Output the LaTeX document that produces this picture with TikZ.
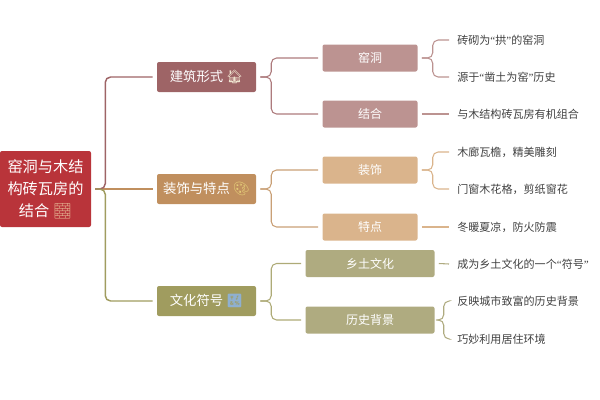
\documentclass[tikz,border=0pt]{standalone}
\usepackage{fontspec}
\setmainfont{Noto Sans CJK SC}
\newfontfamily\emojifont{Noto Emoji}
\newfontfamily\quotefont{Liberation Serif}
\newcommand{\lqm}{{\quotefont “}}
\newcommand{\rqm}{{\quotefont ”}}
\usetikzlibrary{positioning,calc}
\definecolor{rootred}{HTML}{B9343A}
\definecolor{roseA}{HTML}{9E6466}
\definecolor{roseB}{HTML}{BC9391}
\definecolor{tanA}{HTML}{C08F5E}
\definecolor{tanB}{HTML}{DAB48C}
\definecolor{oliveA}{HTML}{A09C5F}
\definecolor{oliveB}{HTML}{AFAB80}
\tikzset{
    rootbox/.style={fill=rootred,rounded corners=1.5pt,text=white,align=center,font=\fontsize{11.4}{16.5}\selectfont,minimum width=68.25pt,minimum height=57pt,inner sep=0pt},
    mainbox/.style={rounded corners=1.5pt,text=white,font=\fontsize{10}{12}\selectfont,minimum width=74.25pt,minimum height=22.5pt,inner sep=0pt},
    subbox/.style={rounded corners=1.5pt,text=white,font=\fontsize{9}{11}\selectfont,minimum height=20.25pt,inner sep=0pt},
    leaf/.style={anchor=west,text=black!75,font=\fontsize{8.3}{10}\selectfont,inner sep=0pt},
    link/.style={line width=1.1pt,rounded corners=4pt},
    thinlink/.style={line width=0.8pt,rounded corners=4pt},
}
\begin{document}
\begin{tikzpicture}[x=0.75pt,y=-0.75pt]
\useasboundingbox (0,0) rectangle (600,400);
% root and main branches
\node[rootbox] (root) at (45.5,189) {窑洞与木结\\构砖瓦房的\\结合 {\emojifont\textcolor[HTML]{E2AE8E}{🧱}}};
\node[mainbox,fill=roseA] (form) at (206.5,77) {建筑形式 {\emojifont\textcolor[HTML]{EFE3CF}{🏠}}};
\node[mainbox,fill=tanA] (deco) at (206.5,189) {装饰与特点 {\emojifont\textcolor[HTML]{E8D27A}{🎨}}};
\node[mainbox,fill=oliveA] (sign) at (206.5,301) {文化符号 {\emojifont\textcolor[HTML]{8FB0D0}{🔣}}};
% second level
\node[subbox,fill=roseB,minimum width=71.25pt] (cave) at (370,58) {窑洞};
\node[subbox,fill=roseB,minimum width=71.25pt] (mix) at (370,114) {结合};
\node[subbox,fill=tanB,minimum width=71.25pt] (orn) at (370,170) {装饰};
\node[subbox,fill=tanB,minimum width=71.25pt] (feat) at (370,227) {特点};
\node[subbox,fill=oliveB,minimum width=96.75pt] (rural) at (370,263.5) {乡土文化};
\node[subbox,fill=oliveB,minimum width=96.75pt] (hist) at (370,320) {历史背景};
% leaves
\node[leaf] (l1) at (457,40) {砖砌为\lqm 拱\rqm 的窑洞};
\node[leaf] (l2) at (457,77) {源于\lqm 凿土为窑\rqm 历史};
\node[leaf] (l3) at (457,114) {与木结构砖瓦房有机组合};
\node[leaf] (l4) at (457,152) {木廊瓦檐，精美雕刻};
\node[leaf] (l5) at (457,189) {门窗木花格，剪纸窗花};
\node[leaf] (l6) at (457,227) {冬暖夏凉，防火防震};
\node[leaf] (l7) at (457,264) {成为乡土文化的一个\lqm 符号\rqm};
\node[leaf] (l8) at (457,301) {反映城市致富的历史背景};
\node[leaf] (l9) at (457,339) {巧妙利用居住环境};
% connectors
\draw[link,color=tanA] ($(root.east)+(4,0)$) -- ($(deco.west)+(-4,0)$);
\draw[link,color=roseA] ($(root.east)+(4,0)$) -- ++(10,0) |- ($(form.west)+(-4,0)$);
\draw[link,color=oliveA] ($(root.east)+(4,0)$) -- ++(10,0) |- ($(sign.west)+(-4,0)$);
\foreach \from/\to/\col in {form/cave/roseA,form/mix/roseA,deco/orn/tanA,deco/feat/tanA,sign/rural/oliveA,sign/hist/oliveA} {
    \draw[thinlink,color=\col!85] ($(\from.east)+(4,0)$) -- ++(11,0) |- ($(\to.west)+(-4,0)$);
}
\foreach \from/\to/\col/\off in {cave/l1/roseB/15,cave/l2/roseB/15,orn/l4/tanB/15,orn/l5/tanB/15,hist/l8/oliveB/9,hist/l9/oliveB/9} {
    \draw[thinlink,color=\col] ($(\from.east)+(4,0)$) -- ($(\from.east)+(\off,0)$) |- ($(\to.west)+(-8,0)$);
}
\foreach \from/\to/\col in {mix/l3/roseB,feat/l6/tanB,rural/l7/oliveB} {
    \draw[thinlink,color=\col] ($(\from.east)+(4,0)$) -- ($(\to.west)+(-8,0)$);
}
\end{tikzpicture}
\end{document}
